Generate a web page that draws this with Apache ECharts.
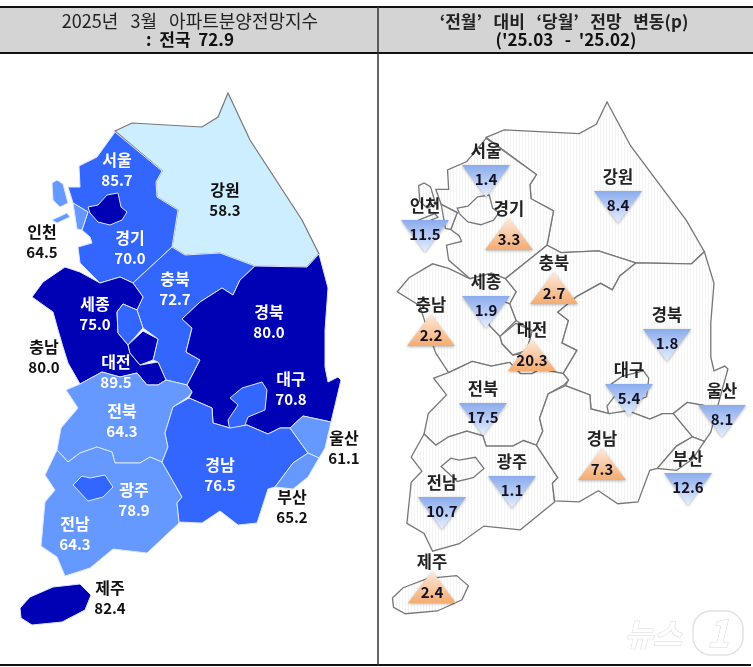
<!DOCTYPE html>
<html>
<head>
<meta charset="utf-8">
<style>html,body{margin:0;padding:0;background:#fff}#chart{width:753px;height:667px}</style>
<script src="https://cdn.jsdelivr.net/npm/echarts@6/dist/echarts.min.js"></script>
</head>
<body>
<div id="chart"></div>
<script>
// 지역, 분양전망지수, 전월 대비 변동(p)
var regions = ['강원', '경기', '서울', '인천', '충북', '충남', '세종', '대전', '경북', '대구', '전북', '전남', '광주', '경남', '울산', '부산', '제주'];
var indexValues = [58.3, 70.0, 85.7, 64.5, 72.7, 80.0, 75.0, 89.5, 80.0, 70.8, 64.3, 64.3, 78.9, 76.5, 61.1, 65.2, 82.4];
var changeValues = [-8.4, 3.3, -1.4, -11.5, 2.7, 2.2, -1.9, 20.3, -1.8, -5.4, -17.5, -10.7, -1.1, 7.3, -8.1, -12.6, 2.4];
var darkLabels = ['강원', '인천', '충남', '울산', '부산', '제주'];

// 지도 경계 (왼쪽 지도 기준)
var regionShapes = {
    '강원': [[[115, 131], [132, 123], [202, 127], [218, 117], [228, 93], [250, 140], [302, 220], [319, 254], [307, 267], [255, 266], [220, 253], [185, 255], [172, 247], [178, 210], [157, 197], [156, 182], [162, 171]]],
    '경기': [[[115, 132], [162, 171], [156, 182], [157, 197], [178, 210], [172, 247], [133, 283], [120, 277], [100, 283], [80, 263], [78, 247], [92, 243], [90, 237], [82, 230], [88, 212], [73, 203], [68, 187], [80, 187], [79, 166], [97, 157]]],
    '서울': [[[88, 207], [98, 205], [107, 195], [118, 193], [121, 207], [127, 212], [122, 220], [110, 225], [98, 222], [90, 213]]],
    '인천': [[[73, 203], [88, 212], [82, 230], [77, 229]], [[52, 183], [57, 180], [63, 184], [68, 203], [60, 207], [53, 200]], [[52, 220], [67, 213], [70, 217], [57, 223]]],
    '충북': [[[172, 247], [185, 255], [220, 253], [255, 266], [240, 280], [233, 295], [222, 288], [200, 302], [182, 319], [192, 328], [186, 352], [200, 360], [187, 385], [166, 380], [158, 362], [153, 360], [158, 339], [143, 328], [137, 310], [143, 297], [133, 283]]],
    '충남': [[[32, 297], [43, 282], [65, 267], [80, 272], [100, 283], [120, 277], [133, 283], [143, 297], [137, 310], [123, 304], [117, 312], [118, 333], [128, 345], [130, 353], [140, 365], [158, 362], [166, 380], [158, 385], [147, 385], [137, 373], [120, 377], [102, 372], [80, 384], [68, 363], [63, 347], [58, 330], [53, 312]]],
    '세종': [[[117, 312], [123, 304], [137, 310], [143, 328], [128, 345], [118, 333]]],
    '대전': [[[143, 331], [158, 339], [153, 360], [140, 365], [130, 353], [128, 345]]],
    '경북': [[[255, 266], [307, 267], [319, 254], [328, 288], [325, 330], [325, 367], [328, 382], [338, 377], [341, 380], [331, 422], [303, 416], [290, 428], [280, 428], [268, 434], [247, 425], [230, 428], [213, 423], [212, 408], [189, 398], [192, 392], [187, 385], [200, 360], [186, 352], [192, 328], [182, 319], [200, 302], [222, 288], [233, 295], [240, 280]]],
    '대구': [[[230, 398], [242, 388], [262, 382], [267, 390], [265, 410], [248, 417], [245, 425], [230, 431], [228, 420], [238, 405]]],
    '전북': [[[66, 390], [80, 384], [102, 372], [120, 377], [137, 373], [147, 385], [158, 385], [166, 380], [187, 385], [192, 392], [188, 397], [173, 407], [165, 433], [168, 447], [162, 462], [150, 457], [140, 463], [115, 463], [112, 452], [97, 447], [80, 453], [68, 462], [57, 450], [61, 428], [78, 408]]],
    '전남': [[[57, 450], [68, 462], [80, 453], [97, 447], [112, 452], [115, 463], [140, 463], [150, 457], [162, 462], [182, 497], [177, 503], [179, 523], [147, 553], [113, 549], [90, 568], [65, 576], [57, 557], [41, 546], [45, 502], [55, 490], [45, 475]]],
    '광주': [[[73, 485], [82, 476], [90, 478], [105, 475], [113, 487], [103, 497], [88, 501]]],
    '경남': [[[189, 398], [212, 408], [213, 423], [230, 428], [247, 425], [268, 434], [280, 428], [290, 428], [308, 453], [293, 463], [275, 487], [268, 489], [257, 523], [238, 525], [220, 511], [202, 523], [179, 522], [177, 503], [182, 497], [162, 462], [168, 447], [165, 433], [173, 407]]],
    '울산': [[[290, 428], [303, 416], [331, 422], [325, 448], [319, 458], [308, 453]]],
    '부산': [[[308, 453], [319, 458], [308, 477], [293, 489], [275, 487], [293, 463]]],
    '제주': [[[20, 608], [30, 597], [53, 587], [80, 584], [91, 595], [85, 610], [62, 622], [32, 625], [21, 618]]]
};

// 왼쪽 지도 라벨 위치
var indexLabelAt = {
    '강원': [225, 200], '경기': [130, 248], '서울': [117, 170], '인천': [42, 242], '충북': [175, 289], '충남': [44, 357],
    '세종': [95, 314], '대전': [116, 372], '경북': [269, 322], '대구': [291, 389], '전북': [122, 421], '전남': [75, 534],
    '광주': [134, 500], '경남': [220, 475], '울산': [344, 448], '부산': [292, 507], '제주': [110, 598]
};

// 오른쪽 지도 삼각형 위치
var changeMarkAt = {
    '강원': [618, 207], '경기': [509, 234], '서울': [486, 181], '인천': [425, 236], '충북': [554, 288], '충남': [431, 330],
    '세종': [486, 312], '대전': [532, 355], '경북': [667, 345], '대구': [629, 400], '전북': [483, 419], '전남': [442, 513],
    '광주': [512, 492], '경남': [602, 464], '울산': [722, 421], '부산': [688, 489], '제주': [432, 587]
};

function buildGeoJson(convert, labelAt) {
    var features = [];
    for (var i = 0; i < regions.length; i++) {
        var name = regions[i];
        var polygons = [];
        for (var j = 0; j < regionShapes[name].length; j++) {
            var ring = [];
            for (var k = 0; k < regionShapes[name][j].length; k++) {
                var p = convert(regionShapes[name][j][k], name);
                ring.push([p[0], -p[1]]);
            }
            ring.push(ring[0]);
            polygons.push([ring]);
        }
        var props = {name: name};
        if (labelAt) {
            props.cp = [labelAt[name][0], -labelAt[name][1]];
        }
        features.push({type: 'Feature', properties: props, geometry: {type: 'MultiPolygon', coordinates: polygons}});
    }
    return {type: 'FeatureCollection', features: features};
}

// 오른쪽 지도는 비율이 조금 다르고 제주가 아래로 내려가 있음
function toRightMap(p, name) {
    var x = 607 + (p[0] - 228) * 1.07;
    var y = 102 + (p[1] - 93) * 0.93;
    if (name == '제주') {
        x += 8;
        y += 17;
    }
    return [x, y];
}

echarts.registerMap('koreaLeft', buildGeoJson(function (p) { return p; }, indexLabelAt));
echarts.registerMap('koreaRight', buildGeoJson(toRightMap));

// 오른쪽 지도의 옅은 세로 빗금
function makeHatch() {
    var c = document.createElement('canvas');
    c.width = 3;
    c.height = 3;
    var ctx = c.getContext('2d');
    ctx.fillStyle = '#ffffff';
    ctx.fillRect(0, 0, 3, 3);
    ctx.fillStyle = '#f4f4f4';
    ctx.fillRect(0, 0, 1, 3);
    return c;
}

var FONT = '"Noto Sans CJK KR", "Noto Sans", sans-serif';
var fullBounds = [[0, 0], [753, -667]];

var indexData = [];
var changeData = [];
var nameData = [];
for (var i = 0; i < regions.length; i++) {
    var name = regions[i];
    var isDark = darkLabels.indexOf(name) >= 0;
    var labelColor = isDark ? '#111111' : '#ffffff';
    var indexItem = {
        name: name,
        value: indexValues[i],
        label: {rich: {n: {color: labelColor, fontSize: 16, fontWeight: 'bold', fontFamily: FONT, lineHeight: 21}, v: {color: labelColor, fontSize: 15, fontWeight: 'bold', fontFamily: FONT, lineHeight: 21}}}
    };
    if (name == '강원') {
        indexItem.itemStyle = {borderColor: '#777777', borderWidth: 1.2};
    }
    indexData.push(indexItem);

    var up = changeValues[i] > 0;
    var pos = [changeMarkAt[name][0], -changeMarkAt[name][1]];
    changeData.push({
        name: name,
        value: pos.concat(Math.abs(changeValues[i])),
        symbol: up ? 'path://M1,0 L2,1.3 L0,1.3 Z' : 'path://M0,0 L2,0 L1,1.3 Z',
        itemStyle: {
            color: new echarts.graphic.LinearGradient(0, 0, 0, 1, up
                ? [{offset: 0, color: '#fdeadb'}, {offset: 1, color: '#f5ab70'}]
                : [{offset: 0, color: '#8aabec'}, {offset: 1, color: '#e6efff'}])
        },
        label: {offset: [0, up ? 5 : -2]}
    });
    nameData.push({name: name, value: pos, label: {offset: [0, up ? -25 : -30]}});
}

var option = {
    animation: false,
    backgroundColor: '#ffffff',
    visualMap: {
        type: 'piecewise',
        show: false,
        seriesIndex: 0,
        pieces: [
            {gte: 80, color: '#0000b4'},
            {gte: 70, lt: 80, color: '#3366ff'},
            {gte: 60, lt: 70, color: '#6699ff'},
            {lt: 60, color: '#cceeff'}
        ]
    },
    geo: {
        map: 'koreaRight',
        roam: false,
        silent: true,
        aspectScale: 1,
        boundingCoords: fullBounds,
        left: 0,
        top: 0,
        width: 753,
        height: 667,
        label: {show: false},
        itemStyle: {areaColor: {image: makeHatch(), repeat: 'repeat'}, borderColor: '#777777', borderWidth: 1.3}
    },
    series: [
        {
            type: 'map',
            map: 'koreaLeft',
            roam: false,
            silent: true,
            selectedMode: false,
            aspectScale: 1,
            boundingCoords: fullBounds,
            left: 0,
            top: 0,
            width: 753,
            height: 667,
            itemStyle: {borderColor: '#dbe6ff', borderWidth: 1},
            label: {
                show: true,
                formatter: function (params) {
                    return '{n|' + params.name + '}\n{v|' + params.value.toFixed(1) + '}';
                }
            },
            data: indexData
        },
        {
            type: 'scatter',
            coordinateSystem: 'geo',
            silent: true,
            symbolSize: [48, 32],
            itemStyle: {opacity: 1, shadowBlur: 3, shadowOffsetY: 1, shadowColor: 'rgba(0,0,0,0.3)'},
            label: {
                show: true,
                position: 'inside',
                fontFamily: FONT,
                fontSize: 15,
                fontWeight: 'bold',
                color: '#111122',
                formatter: function (params) {
                    return params.value[2].toFixed(1);
                }
            },
            data: changeData
        },
        {
            type: 'scatter',
            coordinateSystem: 'geo',
            silent: true,
            symbolSize: 1,
            itemStyle: {color: 'transparent', opacity: 1},
            z: 3,
            label: {
                show: true,
                position: 'inside',
                fontFamily: FONT,
                fontSize: 16.5,
                fontWeight: 'bold',
                color: '#222222',
                formatter: '{b}'
            },
            data: nameData
        }
    ],
    graphic: [
        {type: 'rect', silent: true, z: -1, shape: {x: 0, y: 7, width: 753, height: 46}, style: {fill: '#d4d4d4'}},
        {type: 'line', silent: true, shape: {x1: 0, y1: 7, x2: 753, y2: 7}, style: {stroke: '#111111', lineWidth: 2}},
        {type: 'line', silent: true, shape: {x1: 0, y1: 53, x2: 753, y2: 53}, style: {stroke: '#111111', lineWidth: 2}},
        {type: 'line', silent: true, shape: {x1: 0, y1: 665, x2: 751, y2: 665}, style: {stroke: '#111111', lineWidth: 2}},
        {type: 'line', silent: true, shape: {x1: 378, y1: 7, x2: 378, y2: 665}, style: {stroke: '#333333', lineWidth: 1.5}},
        {type: 'text', silent: true, style: {x: 190, y: 21, text: '2025년   3월   아파트분양전망지수', fill: '#222222', font: '18px ' + FONT, align: 'center', verticalAlign: 'middle'}},
        {type: 'text', silent: true, style: {x: 190, y: 40, text: ':  전국  72.9', fill: '#111111', font: 'bold 17px ' + FONT, align: 'center', verticalAlign: 'middle'}},
        {type: 'text', silent: true, style: {x: 564, y: 22, text: '‘전월’   대비   ‘당월’   전망   변동(p)', fill: '#222222', font: 'bold 17px ' + FONT, align: 'center', verticalAlign: 'middle'}},
        {type: 'text', silent: true, style: {x: 566, y: 40, text: "('25.03   -  '25.02)", fill: '#111111', font: 'bold 17px ' + FONT, align: 'center', verticalAlign: 'middle'}},
        // 뉴스1 워터마크
        {type: 'text', silent: true, style: {x: 653, y: 634, text: '뉴스', fill: '#ffffff', stroke: '#d8d8d8', lineWidth: 1, font: 'italic bold 31px ' + FONT, align: 'center', verticalAlign: 'middle'}},
        {type: 'rect', silent: true, shape: {x: 693, y: 611, width: 50, height: 44, r: 18}, style: {fill: 'none', stroke: '#e2e2e2', lineWidth: 1.5}},
        {type: 'text', silent: true, style: {x: 718, y: 633, text: '1', fill: '#ffffff', stroke: '#d8d8d8', lineWidth: 1, font: 'italic bold 38px ' + FONT, align: 'center', verticalAlign: 'middle'}}
    ]
};

var myChart = echarts.init(document.getElementById('chart'));
myChart.setOption(option);
</script>
</body>
</html>
